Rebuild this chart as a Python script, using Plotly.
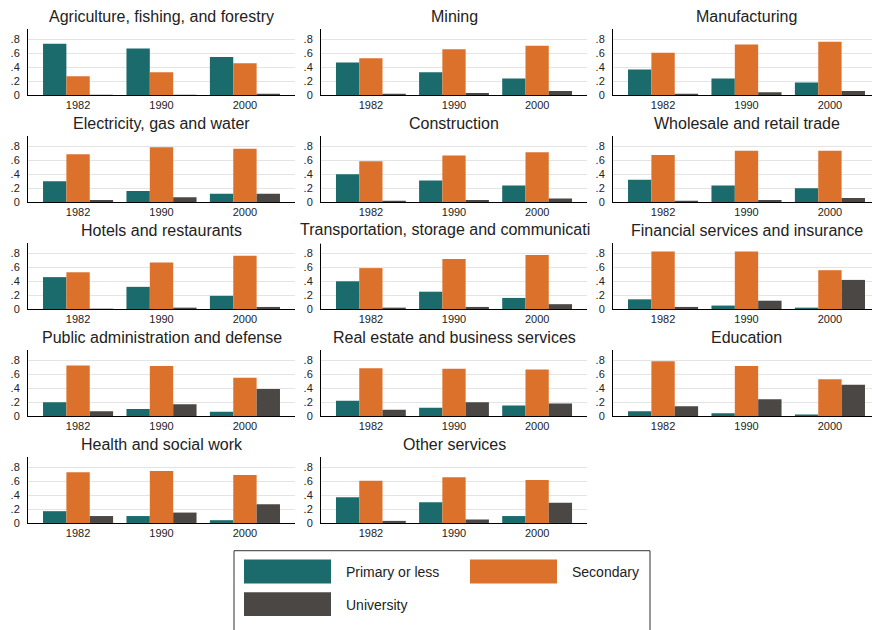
import plotly.graph_objects as go

# ---- data -------------------------------------------------------------
years = ["1982", "1990", "2000"]
levels = ["Primary or less", "Secondary", "University"]
colors = ["#1b6b6d", "#dc712c", "#4b4745"]

sectors = [
    "Agriculture, fishing, and forestry",
    "Mining",
    "Manufacturing",
    "Electricity, gas and water",
    "Construction",
    "Wholesale and retail trade",
    "Hotels and restaurants",
    "Transportation, storage and communication",
    "Financial services and insurance",
    "Public administration and defense",
    "Real estate and business services",
    "Education",
    "Health and social work",
    "Other services",
]

primary = [
    [0.74, 0.67, 0.55],
    [0.47, 0.33, 0.24],
    [0.37, 0.24, 0.18],
    [0.30, 0.16, 0.12],
    [0.40, 0.31, 0.24],
    [0.32, 0.24, 0.20],
    [0.46, 0.32, 0.19],
    [0.40, 0.25, 0.16],
    [0.14, 0.05, 0.02],
    [0.20, 0.10, 0.06],
    [0.22, 0.12, 0.15],
    [0.07, 0.04, 0.02],
    [0.17, 0.10, 0.04],
    [0.37, 0.30, 0.10],
]

secondary = [
    [0.27, 0.33, 0.46],
    [0.53, 0.66, 0.71],
    [0.61, 0.73, 0.77],
    [0.69, 0.79, 0.77],
    [0.59, 0.67, 0.72],
    [0.68, 0.74, 0.74],
    [0.53, 0.67, 0.77],
    [0.59, 0.72, 0.78],
    [0.83, 0.83, 0.56],
    [0.73, 0.72, 0.55],
    [0.69, 0.68, 0.67],
    [0.79, 0.72, 0.53],
    [0.73, 0.75, 0.69],
    [0.61, 0.66, 0.62],
]

university = [
    [0.002, 0.003, 0.007],
    [0.02, 0.03, 0.06],
    [0.02, 0.04, 0.06],
    [0.03, 0.07, 0.12],
    [0.02, 0.03, 0.05],
    [0.01, 0.03, 0.06],
    [0.004, 0.02, 0.03],
    [0.02, 0.03, 0.07],
    [0.03, 0.12, 0.42],
    [0.07, 0.17, 0.39],
    [0.09, 0.20, 0.18],
    [0.14, 0.24, 0.45],
    [0.10, 0.15, 0.27],
    [0.03, 0.05, 0.29],
]

ytick_vals = [0, 0.2, 0.4, 0.6, 0.8]
ytick_text = ["0", ".2", ".4", ".6", ".8"]

# ---- layout geometry (pixels) ----------------------------------------
W, H = 872, 630
FONT = "Liberation Sans, Arial, sans-serif"
col_left = [28, 321, 613]
col_right = [295, 587, 880]
row_base = [96, 204, 312, 420, 528]
PANEL_H = 67
Y_TOP = 0.957
TITLE_OFFSET = 79  # title centre above the baseline


def px_x(v):
    return v / W


def px_y(v):
    return 1 - v / H


fig = go.Figure()
layout = dict(
    width=W,
    height=H,
    margin=dict(l=0, r=0, t=0, b=0),
    paper_bgcolor="white",
    plot_bgcolor="white",
    barmode="group",
    bargap=0.16,
    bargroupgap=0,
    showlegend=False,
    font=dict(family=FONT, color="#222222"),
)
annotations = []
shapes = []

for i, sector in enumerate(sectors):
    r, c = divmod(i, 3)
    k = i + 1
    xa, ya = f"x{k}", f"y{k}"
    for series, name, col in zip((primary, secondary, university), levels, colors):
        fig.add_trace(go.Bar(
            x=years, y=series[i], name=name, marker=dict(color=col, line=dict(width=0)),
            xaxis=xa, yaxis=ya, hoverinfo="x+y+name",
        ))

    left, right = col_left[c], col_right[c]
    unit = (right - left) / 3.2
    x_hi = 2.6 if right <= W else -0.6 + (W - left) / unit
    layout[f"xaxis{k}"] = dict(
        domain=[px_x(left), min(1.0, px_x(right))],
        anchor=ya, type="category", range=[-0.6, x_hi],
        showline=True, linecolor="black", linewidth=1,
        ticks="", showgrid=False, zeroline=False, fixedrange=True,
        tickfont=dict(size=11, family=FONT, color="#222222"),
    )
    base = row_base[r]
    layout[f"yaxis{k}"] = dict(
        domain=[px_y(base), px_y(base - PANEL_H)],
        anchor=xa, range=[0, Y_TOP],
        tickvals=ytick_vals, ticktext=ytick_text,
        showline=True, linecolor="black", linewidth=1,
        ticks="", ticklabelstandoff=5,
        showgrid=True, gridcolor="#e4e4e4", gridwidth=1,
        zeroline=False, fixedrange=True,
        tickfont=dict(size=11, family=FONT, color="#222222"),
    )

    title_y = base - TITLE_OFFSET
    centre = (left + right) / 2
    if i == 7:
        # this long title is clipped at the edge of its panel cell
        clip_l, clip_r = 270, 590
        k2 = len(sectors) + 1
        fig.add_trace(go.Scatter(
            x=[(centre - clip_l) / (clip_r - clip_l)], y=[0.5],
            mode="text", text=[sector], textposition="middle center",
            textfont=dict(size=16, family=FONT, color="#222222"),
            cliponaxis=True, hoverinfo="skip",
            xaxis=f"x{k2}", yaxis=f"y{k2}",
        ))
        layout[f"xaxis{k2}"] = dict(
            domain=[px_x(clip_l), px_x(clip_r)], range=[0, 1],
            visible=False, anchor=f"y{k2}", fixedrange=True,
        )
        layout[f"yaxis{k2}"] = dict(
            domain=[px_y(title_y + 13), px_y(title_y - 13)], range=[0, 1],
            visible=False, anchor=f"x{k2}", fixedrange=True,
        )
    else:
        annotations.append(dict(
            x=px_x(centre), y=px_y(title_y), xref="paper", yref="paper",
            text=sector, showarrow=False, xanchor="center", yanchor="middle",
            font=dict(size=16, family=FONT, color="#222222"),
        ))

# ---- legend box -----------------------------------------------------
shapes.append(dict(
    type="rect", xref="paper", yref="paper",
    x0=px_x(234), x1=px_x(650), y0=px_y(660), y1=px_y(556),
    line=dict(color="#333333", width=1), fillcolor="rgba(0,0,0,0)",
))
legend_slots = [(244, 565), (470, 565), (244, 598)]
for (lx, ly), name, col in zip(legend_slots, levels, colors):
    shapes.append(dict(
        type="rect", xref="paper", yref="paper",
        x0=px_x(lx), x1=px_x(lx + 87), y0=px_y(ly + 24), y1=px_y(ly),
        line=dict(width=0), fillcolor=col,
    ))
    annotations.append(dict(
        x=px_x(lx + 100), y=px_y(ly + 12.5), xref="paper", yref="paper",
        text=name, showarrow=False, xanchor="left", yanchor="middle",
        font=dict(size=14, family=FONT, color="#222222"),
    ))

layout["annotations"] = annotations
layout["shapes"] = shapes
fig.update_layout(**layout)

fig.write_html("out.html")
